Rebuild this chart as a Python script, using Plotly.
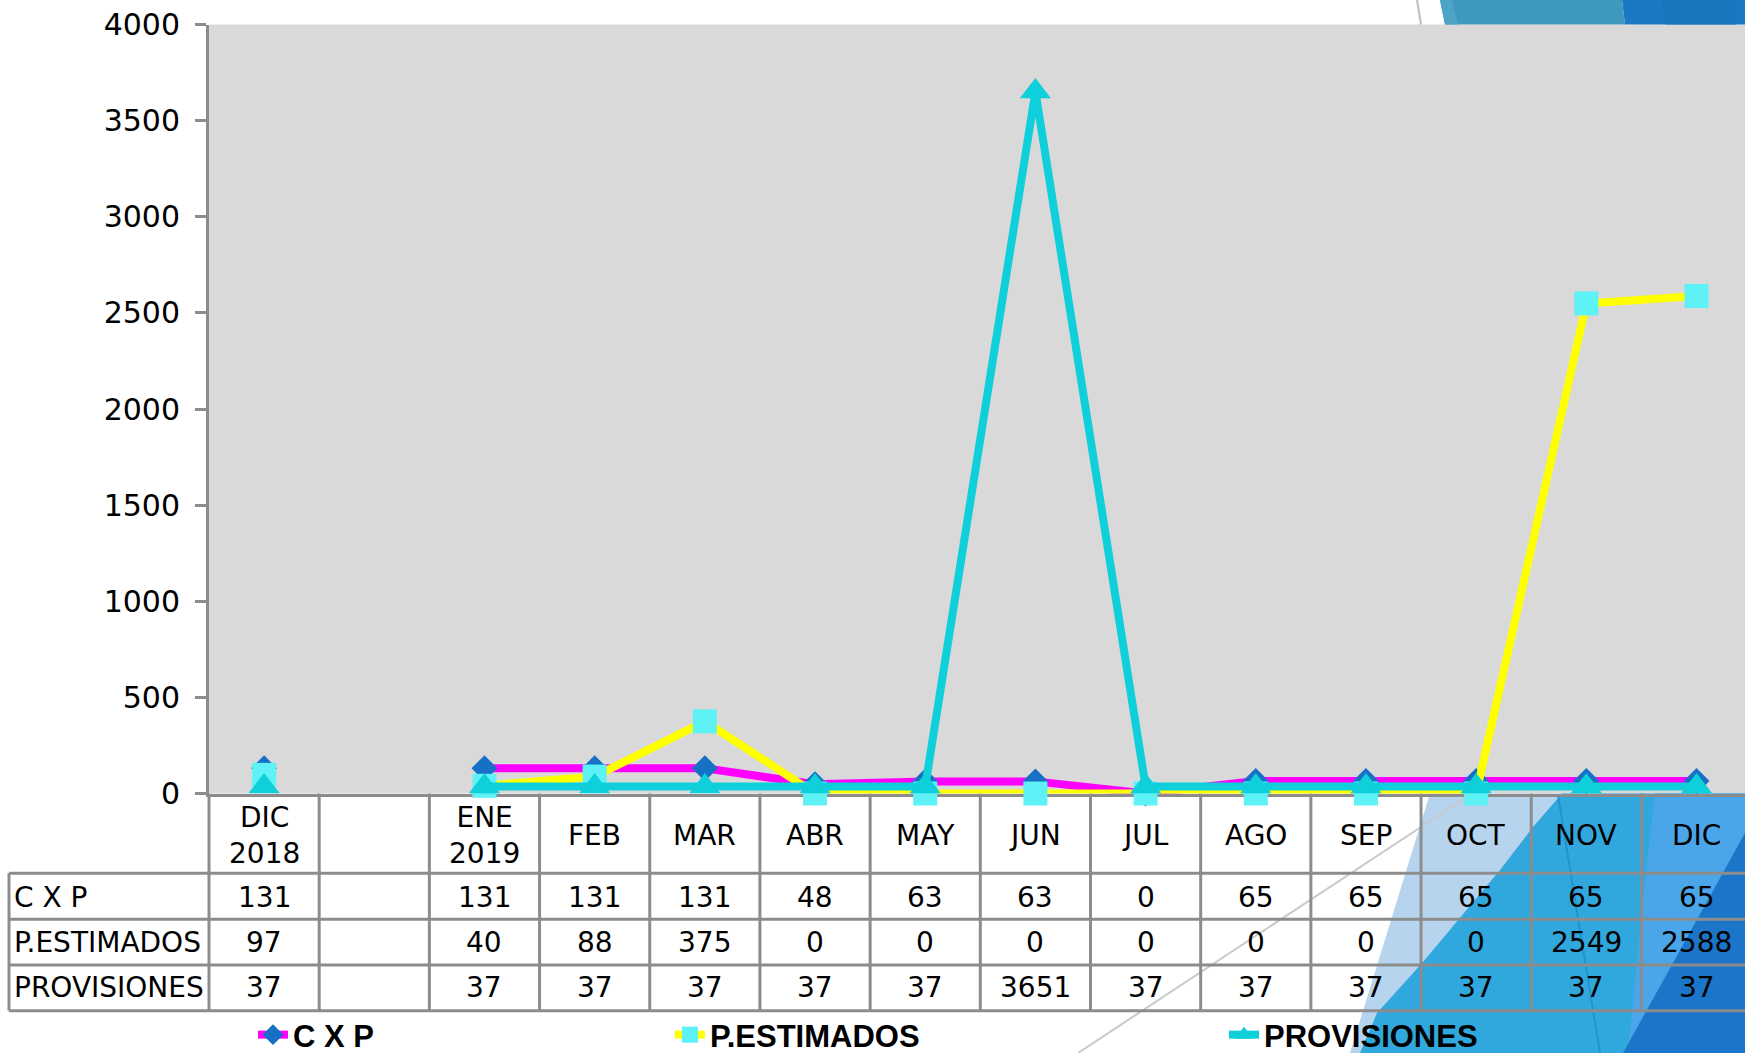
import plotly.graph_objects as go

# ---------------- data ----------------
categories = ["DIC<br>2018", "", "ENE<br>2019", "FEB", "MAR", "ABR", "MAY",
              "JUN", "JUL", "AGO", "SEP", "OCT", "NOV", "DIC"]
series_names = ["C X P", "P.ESTIMADOS", "PROVISIONES"]
cxp = [131, None, 131, 131, 131, 48, 63, 63, 0, 65, 65, 65, 65, 65]
p_estimados = [97, None, 40, 88, 375, 0, 0, 0, 0, 0, 0, 0, 2549, 2588]
provisiones = [37, None, 37, 37, 37, 37, 37, 3651, 37, 37, 37, 37, 37, 37]
y_ticks = [0, 500, 1000, 1500, 2000, 2500, 3000, 3500, 4000]

W, H = 1745, 1053


def PX(x):
    return x / W


def PY(y):
    return 1 - y / H


idx = list(range(len(categories)))
FONT = "DejaVu Sans"
GRID = "#8C8C8C"

fig = go.Figure()
styles = [
    dict(line=dict(color="#FF00FF", width=8),
         marker=dict(symbol="diamond", size=20, color="#1570C6")),
    dict(line=dict(color="#FFFF00", width=8),
         marker=dict(symbol="square", size=24, color="#5EF1F6")),
    dict(line=dict(color="#0FCFDA", width=8),
         marker=dict(symbol="triangle-up", size=27, color="#0FCFDA")),
]
legends = ["legend", "legend2", "legend3"]
for name, vals, st, lg in zip(series_names, [cxp, p_estimados, provisiones], styles, legends):
    fig.add_trace(go.Scatter(x=idx, y=vals, name=name, mode="lines+markers",
                             line=st["line"], marker=st["marker"],
                             connectgaps=False, cliponaxis=False, legend=lg))

shapes = []


def poly(pts, color):
    d = "M " + " L ".join(f"{PX(x):.5f},{PY(y):.5f}" for x, y in pts) + " Z"
    return dict(type="path", xref="paper", yref="paper", path=d,
                fillcolor=color, line=dict(width=0), layer="below")


def seg(x0, y0, x1, y1, color, w):
    return dict(type="line", xref="paper", yref="paper", x0=PX(x0), y0=PY(y0),
                x1=PX(x1), y1=PY(y1), line=dict(color=color, width=w), layer="below")


TOP = 24.5
BOT = 793.5
# decorative slide background (top strip)
shapes.append(poly([(1440, 0), (1622, 0), (1625, TOP), (1445, TOP)], "#3F99BE"))
shapes.append(poly([(1440, 0), (1452, 0), (1458, TOP), (1445, TOP)], "#4EA4C7"))
shapes.append(poly([(1622, 0), (1745, 0), (1745, TOP), (1625, TOP)], "#1B79C3"))
shapes.append(poly([(1662, 0), (1735, 0), (1736, TOP), (1665, TOP)], "#1776BE"))
shapes.append(seg(1417, 0, 1421, TOP, "#BDBDBD", 2))
# decorative slide background (bottom right)
shapes.append(poly([(1430, BOT), (1745, BOT), (1745, H), (1350, H)], "#B7D4EE"))
shapes.append(poly([(1562, BOT), (1745, BOT), (1745, H), (1360, H), (1377, 1013),
                    (1423, 962), (1500, 870), (1533, 827)], "#30A8DD"))
shapes.append(poly([(1655, BOT), (1745, BOT), (1745, 833), (1628, H), (1643, 900)], "#4AA6E8"))
shapes.append(poly([(1745, 833), (1745, H), (1623, H)], "#1B76C9"))
shapes.append(seg(1078, H, 1465, 798, "#C9C9C9", 2))
shapes.append(seg(1558, 795, 1600, H, "#2393CC", 2))

# table grid
row_lines = [873.3, 919.3, 965.0, 1010.7]
for y in row_lines:
    shapes.append(seg(9, y, W, y, GRID, 3))
shapes.append(seg(9, row_lines[0], 9, row_lines[-1], GRID, 3))
shapes.append(dict(type="line", xref="x domain", yref="paper", x0=0, x1=0,
                   y0=PY(BOT), y1=PY(row_lines[-1]), line=dict(color=GRID, width=3), layer="below"))
for k in idx[1:]:
    shapes.append(dict(type="line", xref="x", yref="paper", x0=k - 0.5, x1=k - 0.5,
                       y0=PY(BOT), y1=PY(row_lines[-1]), line=dict(color=GRID, width=3),
                       layer="below"))

annotations = []
tf = dict(family=FONT, size=28, color="black")
for i, c in zip(idx, categories):
    if c:
        annotations.append(dict(x=i, y=PY(835), xref="x", yref="paper", text=c,
                                showarrow=False, font=tf, xanchor="center", yanchor="middle"))
row_y = [897, 942, 987]
for name, vals, ry in zip(series_names, [cxp, p_estimados, provisiones], row_y):
    annotations.append(dict(x=PX(12), y=PY(ry), xref="paper", yref="paper", text=name,
                            showarrow=False, font=tf, xanchor="left", yanchor="middle"))
    for i, v in zip(idx, vals):
        if v is not None:
            annotations.append(dict(x=i, y=PY(ry), xref="x", yref="paper", text=str(v),
                                    showarrow=False, font=tf, xanchor="center",
                                    yanchor="middle"))

lfont = dict(family="Liberation Sans", size=31, color="black", weight="bold")
leg_common = dict(orientation="h", xanchor="left", yanchor="middle", y=PY(1035),
                  font=lfont, bgcolor="rgba(0,0,0,0)", itemwidth=30)

fig.update_layout(
    width=W, height=H,
    margin=dict(l=0, r=0, t=0, b=0, autoexpand=False),
    paper_bgcolor="white",
    plot_bgcolor="#D9D9D9",
    shapes=shapes,
    annotations=annotations,
    showlegend=True,
    legend=dict(x=PX(253), **leg_common),
    legend2=dict(x=PX(670), **leg_common),
    legend3=dict(x=PX(1224), **leg_common),
    xaxis=dict(domain=[PX(209), 1], range=[-0.5, 13.44], showgrid=False, zeroline=False,
               showticklabels=False, ticks="", showline=True, linecolor=GRID, linewidth=3,
               layer="below traces", fixedrange=True, automargin=False),
    yaxis=dict(domain=[PY(BOT), PY(TOP)], range=[0, 4000], tickvals=y_ticks,
               showgrid=False, zeroline=False, showline=True, linecolor=GRID, linewidth=3,
               ticks="outside", ticklen=11, tickwidth=3, tickcolor=GRID,
               tickfont=dict(family=FONT, size=30, color="black"), ticklabelstandoff=9,
               layer="below traces", automargin=False, fixedrange=True),
)

fig.write_html("out.html", config={"displayModeBar": False},
               post_script="document.body.style.margin='0';document.body.style.overflow='hidden';")
